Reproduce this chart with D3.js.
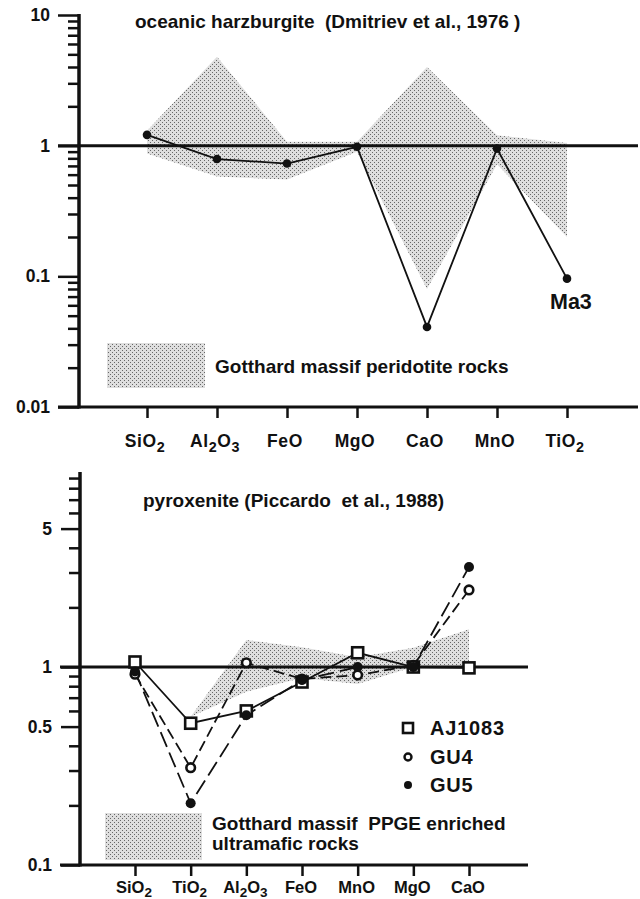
<!DOCTYPE html>
<html>
<head>
<meta charset="utf-8">
<script src="https://cdn.jsdelivr.net/npm/d3@7"></script>
<style>
  html, body { margin: 0; padding: 0; background: #fff; }
  svg { display: block; }
  text { font-family: "Liberation Sans", Arial, Helvetica, sans-serif; font-weight: bold; fill: #111; white-space: pre; }
</style>
</head>
<body>
<svg id="chart" width="640" height="899"></svg>
<script>
// ---------- DATA ----------
// Top panel
const topCategories = [["SiO", "2"], ["Al", "2", "O", "3"], ["FeO"], ["MgO"], ["CaO"], ["MnO"], ["TiO", "2"]];
const topKeys = ["SiO2", "Al2O3", "FeO", "MgO", "CaO", "MnO", "TiO2"];
const ma3Values = [1.21, 0.79, 0.73, 0.98, 0.041, 0.95, 0.096];
const topEnvUpper = [1.3, 4.8, 1.07, 1.07, 4.0, 1.2, 1.05];
const topEnvLower = [0.87, 0.58, 0.55, 0.9, 0.08, 0.72, 0.2];
const topMajorTicks = [0.01, 0.1, 1, 10];
const topMajorLabels = ["0.01", "0.1", "1", "10"];
const topMinorTicks = [0.02,0.03,0.04,0.05,0.06,0.07,0.08,0.09,0.2,0.3,0.4,0.5,0.6,0.7,0.8,0.9,2,3,4,5,6,7,8,9];
const topTitle = "oceanic harzburgite  (Dmitriev et al., 1976 )";
const topSampleLabel = "Ma3";
const topLegendText = "Gotthard massif peridotite rocks";

// Bottom panel
const botCategories = [["SiO", "2"], ["TiO", "2"], ["Al", "2", "O", "3"], ["FeO"], ["MnO"], ["MgO"], ["CaO"]];
const botKeys = ["SiO2", "TiO2", "Al2O3", "FeO", "MnO", "MgO", "CaO"];
const aj1083Values = [1.06, 0.52, 0.60, 0.84, 1.18, 1.0, 0.99];
const gu4Values = [0.92, 0.31, 1.05, 0.87, 0.91, 1.02, 2.45];
const gu5Values = [0.95, 0.205, 0.57, 0.86, 1.0, 1.0, 3.2];
const botEnvKeys = ["TiO2", "Al2O3", "FeO", "MnO", "MgO", "CaO"];
const botEnvUpper = [0.56, 1.37, 1.26, 1.12, 1.25, 1.55];
const botEnvLower = [0.56, 0.75, 0.88, 0.82, 1.0, 1.0];
const botMajorTicks = [0.1, 0.5, 1, 5];
const botMajorLabels = ["0.1", "0.5", "1", "5"];
const botMinorTicks = [0.2,0.3,0.4,0.6,0.7,0.8,0.9,2,3,4,6,7,8,9];
const botTitle = "pyroxenite (Piccardo  et al., 1988)";
const botSeriesNames = ["AJ1083", "GU4", "GU5"];
const botLegendLines = ["Gotthard massif  PPGE enriched", "ultramafic rocks"];

// ---------- DRAW ----------
const svg = d3.select("#chart");
const defs = svg.append("defs");
const pat = defs.append("pattern").attr("id", "stipple").attr("patternUnits", "userSpaceOnUse")
  .attr("width", 4).attr("height", 4);
pat.append("rect").attr("width", 4).attr("height", 4).attr("fill", "#dedede");
pat.append("rect").attr("x", 0).attr("y", 0).attr("width", 1).attr("height", 1).attr("fill", "#666");
pat.append("rect").attr("x", 2).attr("y", 2).attr("width", 1).attr("height", 1).attr("fill", "#666");

function subLabel(sel, parts, size, drop) {
  parts.forEach((p, i) => {
    const isSub = (parts.length > 1 && i % 2 === 1);
    sel.append("tspan").text(p)
      .attr("font-size", isSub ? size * 0.82 : size)
      .attr("dy", isSub ? drop : (i > 0 ? -drop : 0));
  });
}

function yAxis(g, y, major, labels, minor, majorSize, minorSize, pad, fs) {
  g.call(d3.axisLeft(y).tickValues(minor).tickSize(minorSize).tickSizeOuter(0).tickFormat(""))
   .call(a => a.select(".domain").remove())
   .call(a => a.selectAll("line").attr("stroke", "#111").attr("stroke-width", 2.5));
  const gm = g.append("g").call(d3.axisLeft(y).tickValues(major).tickSize(majorSize).tickSizeOuter(0)
      .tickPadding(pad).tickFormat((d, i) => labels[i]));
  gm.select(".domain").remove();
  gm.selectAll("line").attr("stroke", "#111").attr("stroke-width", 2.5);
  gm.selectAll("text").attr("font-size", fs).attr("font-family", "Liberation Sans, Arial, sans-serif")
    .attr("font-weight", "bold").attr("fill", "#111");
}

// ===== TOP PANEL =====
const tY = d3.scaleLog().domain([0.01, 10]).range([407, 15]);
const tX = d3.scalePoint().domain(topKeys).range([147, 567]);
const topG = svg.append("g");

// envelope
const envTop = topKeys.map((k, i) => ({ k, hi: topEnvUpper[i], lo: topEnvLower[i] }));
topG.append("path").datum(envTop)
  .attr("d", d3.area().x(d => tX(d.k)).y0(d => tY(d.lo)).y1(d => tY(d.hi)))
  .attr("fill", "url(#stipple)").attr("stroke", "none");

// reference line at 1
topG.append("line").attr("x1", 58).attr("x2", 638).attr("y1", tY(1)).attr("y2", tY(1))
  .attr("stroke", "#111").attr("stroke-width", 3);

// axes
yAxis(topG.append("g").attr("transform", "translate(79,0)"), tY, topMajorTicks, topMajorLabels, topMinorTicks, 21, 11, 8, 17.5);
topG.append("line").attr("x1", 79).attr("x2", 79).attr("y1", tY(10) - 1).attr("y2", tY(0.01) + 1.5)
  .attr("stroke", "#111").attr("stroke-width", 3.5);
const txa = topG.append("g").attr("transform", `translate(0,${tY(0.01)})`)
  .call(d3.axisBottom(tX).tickSize(11).tickSizeOuter(0).tickFormat(""));
txa.select(".domain").remove();
txa.selectAll("line").attr("stroke", "#111").attr("stroke-width", 2.5);
topG.append("line").attr("x1", 58).attr("x2", 638).attr("y1", tY(0.01)).attr("y2", tY(0.01))
  .attr("stroke", "#111").attr("stroke-width", 3);
topCategories.forEach((parts, i) => {
  const t = topG.append("text").attr("x", tX(topKeys[i]) - 2).attr("y", 447)
    .attr("text-anchor", "middle").attr("font-size", 17.5).attr("letter-spacing", 0.6);
  subLabel(t, parts, 17.5, 5);
});

// series
const ma3 = topKeys.map((k, i) => ({ k, v: ma3Values[i] }));
topG.append("path").datum(ma3)
  .attr("d", d3.line().x(d => tX(d.k)).y(d => tY(d.v)))
  .attr("fill", "none").attr("stroke", "#111").attr("stroke-width", 1.8);
topG.selectAll("circle.ma3").data(ma3).join("circle")
  .attr("cx", d => tX(d.k)).attr("cy", d => tY(d.v)).attr("r", 4.3).attr("fill", "#111");
topG.append("text").attr("x", 550).attr("y", 309).attr("font-size", 21.5).text(topSampleLabel);

// title + legend
topG.append("text").attr("x", 135).attr("y", 28).attr("font-size", 19).text(topTitle);
topG.append("rect").attr("x", 107).attr("y", 343).attr("width", 98).attr("height", 45).attr("fill", "url(#stipple)");
topG.append("text").attr("x", 215).attr("y", 373).attr("font-size", 19).text(topLegendText);

// ===== BOTTOM PANEL =====
const bY = d3.scaleLog().domain([0.1, 10]).range([865, 469]);
const bX = d3.scalePoint().domain(botKeys).range([135, 469]);
const botG = svg.append("g");

const envBot = botEnvKeys.map((k, i) => ({ k, hi: botEnvUpper[i], lo: botEnvLower[i] }));
botG.append("path").datum(envBot)
  .attr("d", d3.area().x(d => bX(d.k)).y0(d => bY(d.lo)).y1(d => bY(d.hi)))
  .attr("fill", "url(#stipple)").attr("stroke", "none");

botG.append("line").attr("x1", 60).attr("x2", 528).attr("y1", bY(1)).attr("y2", bY(1))
  .attr("stroke", "#111").attr("stroke-width", 3);

yAxis(botG.append("g").attr("transform", "translate(80,0)"), bY, botMajorTicks, botMajorLabels, botMinorTicks, 19, 11, 9, 17.5);
botG.append("line").attr("x1", 80).attr("x2", 80).attr("y1", 472).attr("y2", bY(0.1) + 1.5)
  .attr("stroke", "#111").attr("stroke-width", 3.5);
const bxa = botG.append("g").attr("transform", `translate(0,${bY(0.1)})`)
  .call(d3.axisBottom(bX).tickSize(11).tickSizeOuter(0).tickFormat(""));
bxa.select(".domain").remove();
bxa.selectAll("line").attr("stroke", "#111").attr("stroke-width", 2.5);
botG.append("line").attr("x1", 60).attr("x2", 528).attr("y1", bY(0.1)).attr("y2", bY(0.1))
  .attr("stroke", "#111").attr("stroke-width", 3);
botCategories.forEach((parts, i) => {
  const t = botG.append("text").attr("x", bX(botKeys[i]) - 1).attr("y", 893)
    .attr("text-anchor", "middle").attr("font-size", 16.5);
  subLabel(t, parts, 16.5, 3.5);
});

const series = [
  { name: botSeriesNames[0], vals: aj1083Values, dash: null, marker: "square" },
  { name: botSeriesNames[1], vals: gu4Values, dash: "11,5", marker: "open" },
  { name: botSeriesNames[2], vals: gu5Values, dash: "16,6", marker: "filled" }
];
const bLine = d3.line().x(d => bX(d.k)).y(d => bY(d.v));
series.forEach(s => {
  const pts = botKeys.map((k, i) => ({ k, v: s.vals[i] }));
  botG.append("path").datum(pts).attr("d", bLine).attr("fill", "none")
    .attr("stroke", "#111").attr("stroke-width", 1.8)
    .attr("stroke-dasharray", s.dash);
  s.pts = pts;
});
series.forEach(s => {
  const g = botG.append("g");
  if (s.marker === "square") {
    g.selectAll("rect").data(s.pts).join("rect")
      .attr("x", d => bX(d.k) - 5.5).attr("y", d => bY(d.v) - 5.5)
      .attr("width", 11).attr("height", 11).attr("fill", "#fff").attr("stroke", "#111").attr("stroke-width", 2.6);
  } else if (s.marker === "open") {
    g.selectAll("circle").data(s.pts).join("circle")
      .attr("cx", d => bX(d.k)).attr("cy", d => bY(d.v)).attr("r", 4.3)
      .attr("fill", "#fff").attr("stroke", "#111").attr("stroke-width", 2.6);
  } else {
    g.selectAll("circle").data(s.pts).join("circle")
      .attr("cx", d => bX(d.k)).attr("cy", d => bY(d.v)).attr("r", 5)
      .attr("fill", "#111");
  }
});

// legend (series)
const lg = botG.append("g");
lg.append("rect").attr("x", 403).attr("y", 723).attr("width", 10).attr("height", 10)
  .attr("fill", "#fff").attr("stroke", "#111").attr("stroke-width", 2.6);
lg.append("circle").attr("cx", 408).attr("cy", 757).attr("r", 3.5)
  .attr("fill", "#fff").attr("stroke", "#111").attr("stroke-width", 2.4);
lg.append("circle").attr("cx", 408).attr("cy", 785).attr("r", 4).attr("fill", "#111");
botSeriesNames.forEach((n, i) => {
  lg.append("text").attr("x", 430).attr("y", 735 + i * 28.5).attr("font-size", 20).attr("letter-spacing", 0.8).text(n);
});

// title + env legend
botG.append("text").attr("x", 143).attr("y", 507).attr("font-size", 19).text(botTitle);
botG.append("rect").attr("x", 105).attr("y", 813).attr("width", 97).attr("height", 47).attr("fill", "url(#stipple)");
botLegendLines.forEach((t, i) => {
  botG.append("text").attr("x", 212).attr("y", 830 + i * 20).attr("font-size", 19).text(t);
});
</script>
</body>
</html>
